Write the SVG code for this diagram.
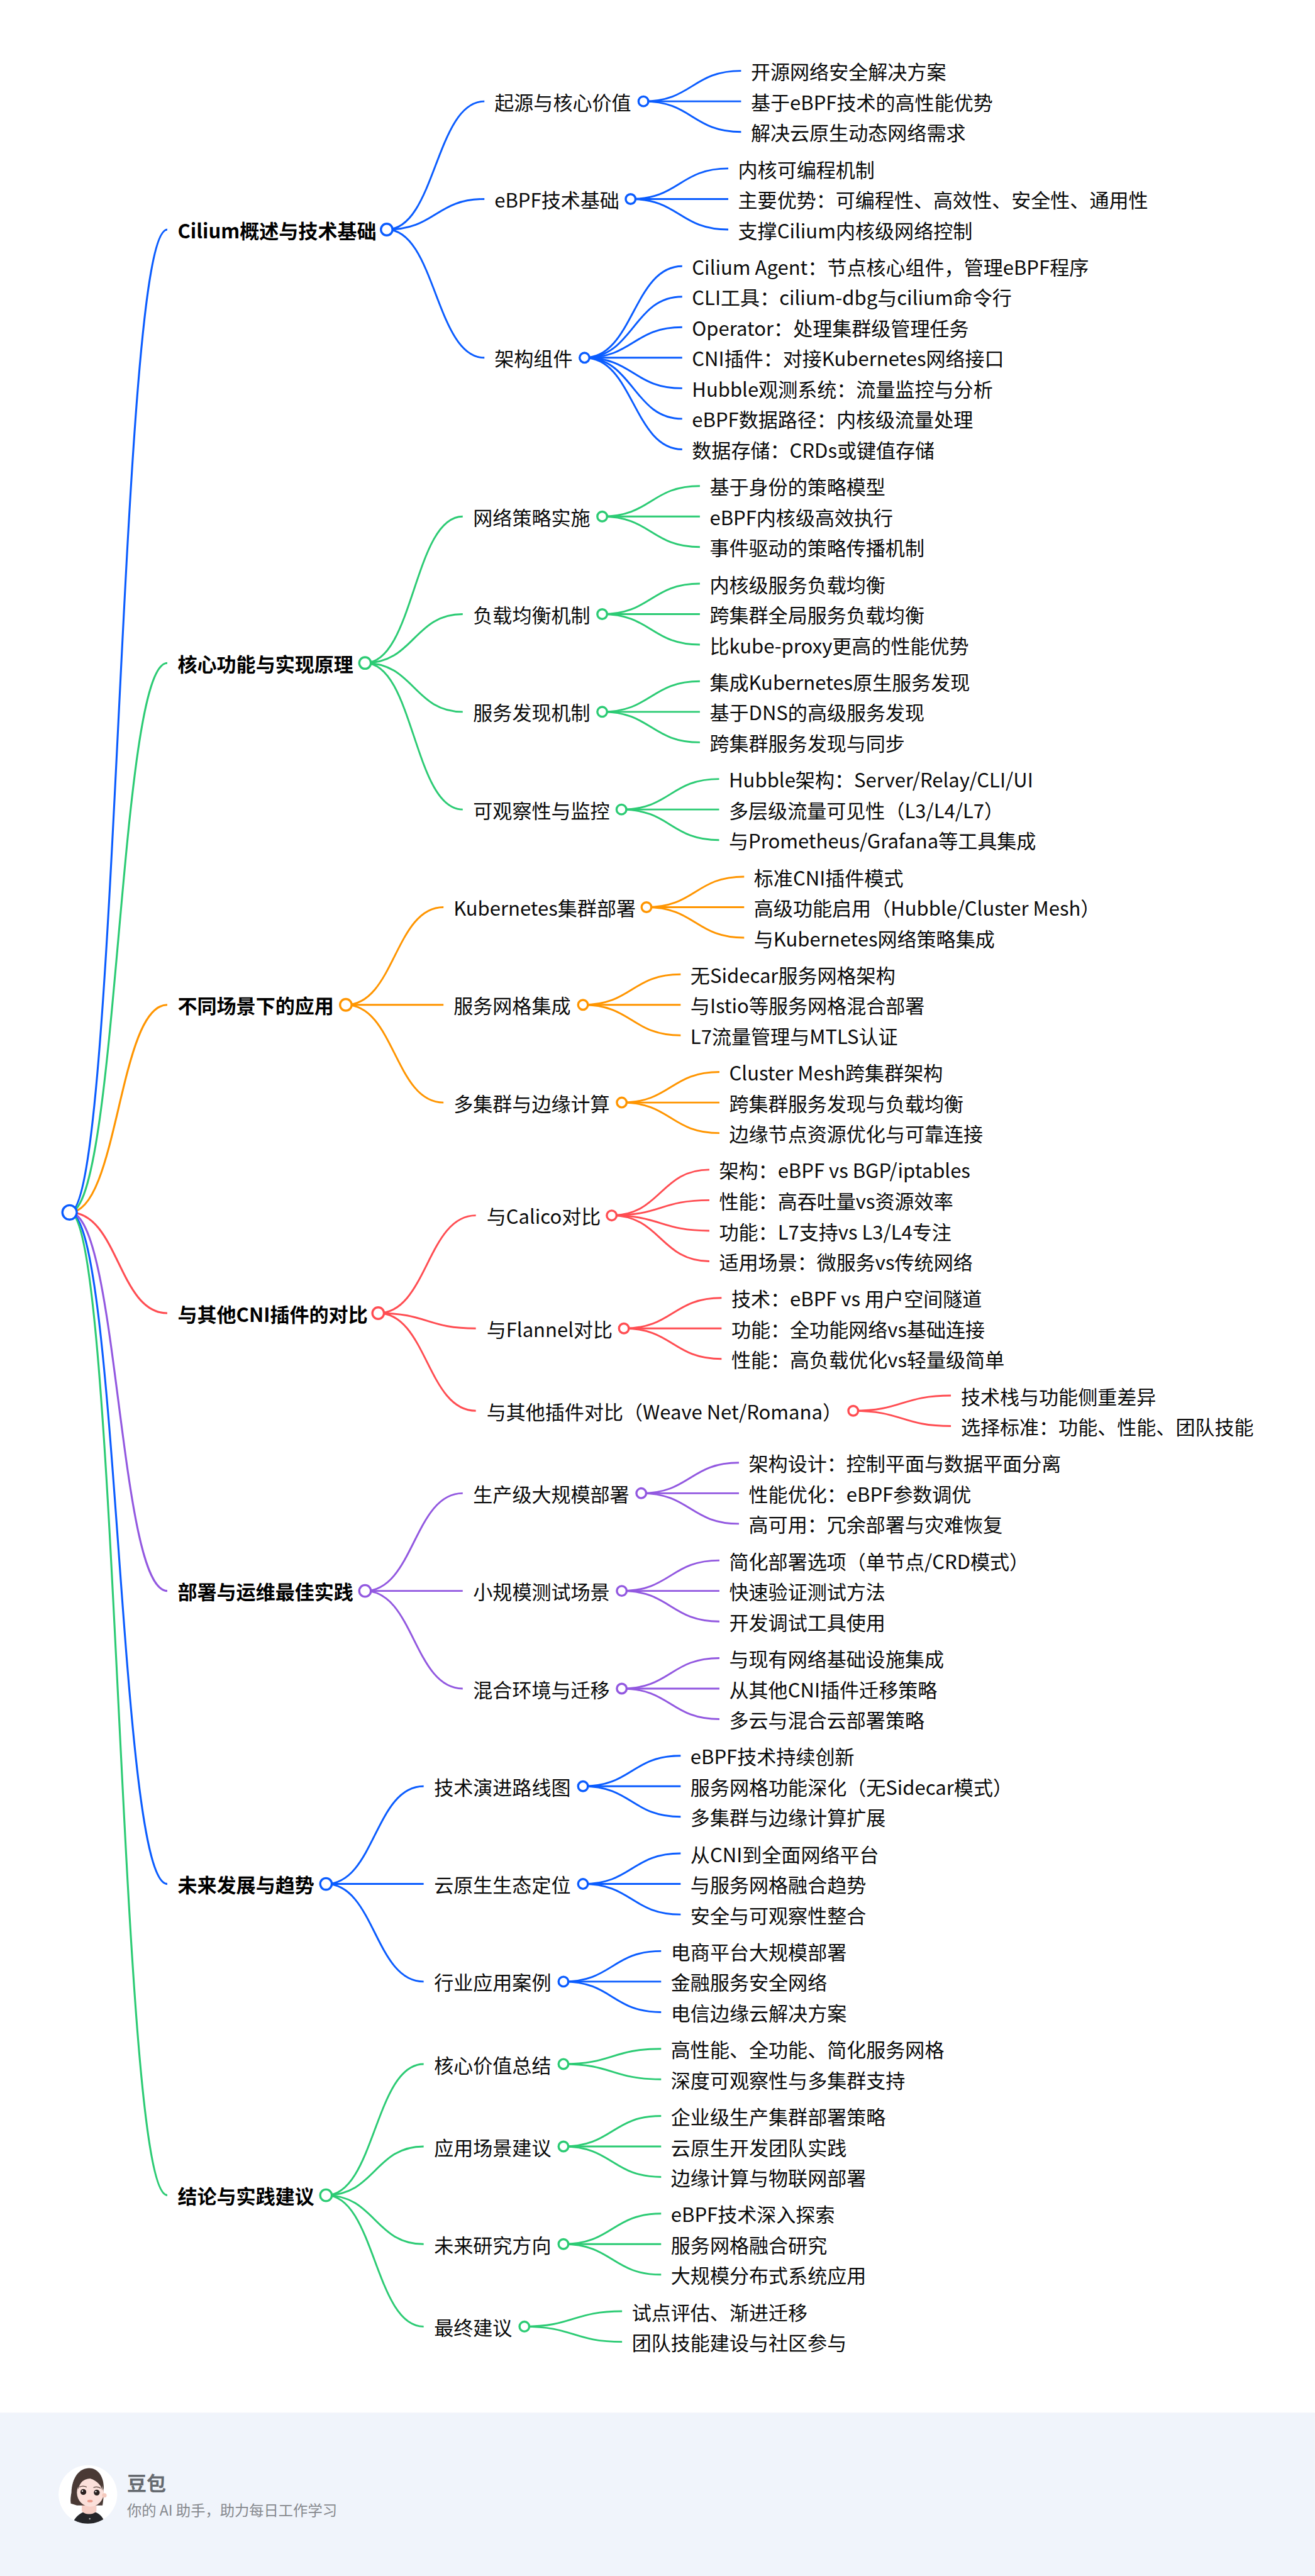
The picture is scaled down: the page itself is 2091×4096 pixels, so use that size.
<svg xmlns="http://www.w3.org/2000/svg" width="2091" height="4096" viewBox="0 0 2091 4096">
<style>
text{font-family:"Noto Sans CJK SC","Noto Sans",sans-serif;font-size:32px;fill:#0a0a0a}
.b{font-weight:700;fill:#000}
path.c{fill:none;stroke-width:3}
.r{stroke-width:3.2!important}
circle.n{fill:#fff;stroke-width:3.5}
.blue{stroke:#0a5cff}.green{stroke:#2ccb74}.orange{stroke:#ff9500}.red{stroke:#ff4d52}.purple{stroke:#9258e0}
.ft1{font-size:32px;font-weight:700;fill:#666a70}.ft2{font-size:24px;fill:#86898e}
</style>
<defs><clipPath id="avclip"><circle cx="144" cy="4086" r="48"/></clipPath></defs>
<rect width="2091" height="4096" fill="#fff"/>
<g transform="scale(0.9707)">
<g id="connectors">
<g class="blue">
<path class="c r blue" d="M114 1986C194 1986 194 376 274 376"/>
<path class="c r blue" d="M114 1986C194 1986 194 3086 274 3086"/>
<path class="c blue" d="M633.5 376C713.5 376 713.5 166 793.5 166"/>
<path class="c blue" d="M633.5 376C713.5 376 713.5 326 793.5 326"/>
<path class="c blue" d="M633.5 376C713.5 376 713.5 586 793.5 586"/>
<path class="c blue" d="M1054 166C1134 166 1134 116 1214 116"/>
<path class="c blue" d="M1054 166H1214"/>
<path class="c blue" d="M1054 166C1134 166 1134 216 1214 216"/>
<path class="c blue" d="M1033 326C1113 326 1113 276 1193 276"/>
<path class="c blue" d="M1033 326H1193"/>
<path class="c blue" d="M1033 326C1113 326 1113 376 1193 376"/>
<path class="c blue" d="M957.5 586C1037.5 586 1037.5 436 1117.5 436"/>
<path class="c blue" d="M957.5 586C1037.5 586 1037.5 486 1117.5 486"/>
<path class="c blue" d="M957.5 586C1037.5 586 1037.5 536 1117.5 536"/>
<path class="c blue" d="M957.5 586H1117.5"/>
<path class="c blue" d="M957.5 586C1037.5 586 1037.5 636 1117.5 636"/>
<path class="c blue" d="M957.5 586C1037.5 586 1037.5 686 1117.5 686"/>
<path class="c blue" d="M957.5 586C1037.5 586 1037.5 736 1117.5 736"/>
<path class="c blue" d="M534 3086C614 3086 614 2926 694 2926"/>
<path class="c blue" d="M534 3086H694"/>
<path class="c blue" d="M534 3086C614 3086 614 3246 694 3246"/>
<path class="c blue" d="M955 2926C1035 2926 1035 2876 1115 2876"/>
<path class="c blue" d="M955 2926H1115"/>
<path class="c blue" d="M955 2926C1035 2926 1035 2976 1115 2976"/>
<path class="c blue" d="M955 3086C1035 3086 1035 3036 1115 3036"/>
<path class="c blue" d="M955 3086H1115"/>
<path class="c blue" d="M955 3086C1035 3086 1035 3136 1115 3136"/>
<path class="c blue" d="M923 3246C1003 3246 1003 3196 1083 3196"/>
<path class="c blue" d="M923 3246H1083"/>
<path class="c blue" d="M923 3246C1003 3246 1003 3296 1083 3296"/>
</g>
<g class="green">
<path class="c r green" d="M114 1986C194 1986 194 1086 274 1086"/>
<path class="c r green" d="M114 1986C194 1986 194 3596 274 3596"/>
<path class="c green" d="M598 1086C678 1086 678 846 758 846"/>
<path class="c green" d="M598 1086C678 1086 678 1006 758 1006"/>
<path class="c green" d="M598 1086C678 1086 678 1166 758 1166"/>
<path class="c green" d="M598 1086C678 1086 678 1326 758 1326"/>
<path class="c green" d="M986.5 846C1066.5 846 1066.5 796 1146.5 796"/>
<path class="c green" d="M986.5 846H1146.5"/>
<path class="c green" d="M986.5 846C1066.5 846 1066.5 896 1146.5 896"/>
<path class="c green" d="M986.5 1006C1066.5 1006 1066.5 956 1146.5 956"/>
<path class="c green" d="M986.5 1006H1146.5"/>
<path class="c green" d="M986.5 1006C1066.5 1006 1066.5 1056 1146.5 1056"/>
<path class="c green" d="M986.5 1166C1066.5 1166 1066.5 1116 1146.5 1116"/>
<path class="c green" d="M986.5 1166H1146.5"/>
<path class="c green" d="M986.5 1166C1066.5 1166 1066.5 1216 1146.5 1216"/>
<path class="c green" d="M1018 1326C1098 1326 1098 1276 1178 1276"/>
<path class="c green" d="M1018 1326H1178"/>
<path class="c green" d="M1018 1326C1098 1326 1098 1376 1178 1376"/>
<path class="c green" d="M534 3596C614 3596 614 3381 694 3381"/>
<path class="c green" d="M534 3596C614 3596 614 3516 694 3516"/>
<path class="c green" d="M534 3596C614 3596 614 3676 694 3676"/>
<path class="c green" d="M534 3596C614 3596 614 3811 694 3811"/>
<path class="c green" d="M923 3381C1003 3381 1003 3356 1083 3356"/>
<path class="c green" d="M923 3381C1003 3381 1003 3406 1083 3406"/>
<path class="c green" d="M923 3516C1003 3516 1003 3466 1083 3466"/>
<path class="c green" d="M923 3516H1083"/>
<path class="c green" d="M923 3516C1003 3516 1003 3566 1083 3566"/>
<path class="c green" d="M923 3676C1003 3676 1003 3626 1083 3626"/>
<path class="c green" d="M923 3676H1083"/>
<path class="c green" d="M923 3676C1003 3676 1003 3726 1083 3726"/>
<path class="c green" d="M859 3811C939 3811 939 3786 1019 3786"/>
<path class="c green" d="M859 3811C939 3811 939 3836 1019 3836"/>
</g>
<g class="orange">
<path class="c r orange" d="M114 1986C194 1986 194 1646 274 1646"/>
<path class="c orange" d="M566.5 1646C646.5 1646 646.5 1486 726.5 1486"/>
<path class="c orange" d="M566.5 1646H726.5"/>
<path class="c orange" d="M566.5 1646C646.5 1646 646.5 1806 726.5 1806"/>
<path class="c orange" d="M1059 1486C1139 1486 1139 1436 1219 1436"/>
<path class="c orange" d="M1059 1486H1219"/>
<path class="c orange" d="M1059 1486C1139 1486 1139 1536 1219 1536"/>
<path class="c orange" d="M955 1646C1035 1646 1035 1596 1115 1596"/>
<path class="c orange" d="M955 1646H1115"/>
<path class="c orange" d="M955 1646C1035 1646 1035 1696 1115 1696"/>
<path class="c orange" d="M1018.5 1806C1098.5 1806 1098.5 1756 1178.5 1756"/>
<path class="c orange" d="M1018.5 1806H1178.5"/>
<path class="c orange" d="M1018.5 1806C1098.5 1806 1098.5 1856 1178.5 1856"/>
</g>
<g class="red">
<path class="c r red" d="M114 1986C194 1986 194 2151 274 2151"/>
<path class="c red" d="M619.5 2151C699.5 2151 699.5 1991 779.5 1991"/>
<path class="c red" d="M619.5 2151C699.5 2151 699.5 2176 779.5 2176"/>
<path class="c red" d="M619.5 2151C699.5 2151 699.5 2311 779.5 2311"/>
<path class="c red" d="M1002 1991C1082 1991 1082 1916 1162 1916"/>
<path class="c red" d="M1002 1991C1082 1991 1082 1966 1162 1966"/>
<path class="c red" d="M1002 1991C1082 1991 1082 2016 1162 2016"/>
<path class="c red" d="M1002 1991C1082 1991 1082 2066 1162 2066"/>
<path class="c red" d="M1022 2176C1102 2176 1102 2126 1182 2126"/>
<path class="c red" d="M1022 2176H1182"/>
<path class="c red" d="M1022 2176C1102 2176 1102 2226 1182 2226"/>
<path class="c red" d="M1397.7 2311C1477.7 2311 1477.7 2286 1557.7 2286"/>
<path class="c red" d="M1397.7 2311C1477.7 2311 1477.7 2336 1557.7 2336"/>
</g>
<g class="purple">
<path class="c r purple" d="M114 1986C194 1986 194 2606 274 2606"/>
<path class="c purple" d="M598 2606C678 2606 678 2446 758 2446"/>
<path class="c purple" d="M598 2606H758"/>
<path class="c purple" d="M598 2606C678 2606 678 2766 758 2766"/>
<path class="c purple" d="M1050.5 2446C1130.5 2446 1130.5 2396 1210.5 2396"/>
<path class="c purple" d="M1050.5 2446H1210.5"/>
<path class="c purple" d="M1050.5 2446C1130.5 2446 1130.5 2496 1210.5 2496"/>
<path class="c purple" d="M1018.5 2606C1098.5 2606 1098.5 2556 1178.5 2556"/>
<path class="c purple" d="M1018.5 2606H1178.5"/>
<path class="c purple" d="M1018.5 2606C1098.5 2606 1098.5 2656 1178.5 2656"/>
<path class="c purple" d="M1018.5 2766C1098.5 2766 1098.5 2716 1178.5 2716"/>
<path class="c purple" d="M1018.5 2766H1178.5"/>
<path class="c purple" d="M1018.5 2766C1098.5 2766 1098.5 2816 1178.5 2816"/>
</g>
</g>

<g id="root"><circle class="n blue" cx="114" cy="1986" r="11.8"/></g>

<g id="l1-1"><text class="b" x="291" y="390">Cilium概述与技术基础</text><circle class="n blue" cx="633.5" cy="376" r="9.5"/></g>
<g id="l2-1-1"><text x="810" y="180">起源与核心价值</text><circle class="n blue" cx="1054" cy="166" r="8"/></g>
<g id="l3-1-1-1"><text x="1230" y="130">开源网络安全解决方案</text></g>
<g id="l3-1-1-2"><text x="1230" y="180">基于eBPF技术的高性能优势</text></g>
<g id="l3-1-1-3"><text x="1230" y="230">解决云原生动态网络需求</text></g>
<g id="l2-1-2"><text x="810" y="340">eBPF技术基础</text><circle class="n blue" cx="1033" cy="326" r="8"/></g>
<g id="l3-1-2-1"><text x="1209" y="290">内核可编程机制</text></g>
<g id="l3-1-2-2"><text x="1209" y="340">主要优势：可编程性、高效性、安全性、通用性</text></g>
<g id="l3-1-2-3"><text x="1209" y="390">支撑Cilium内核级网络控制</text></g>
<g id="l2-1-3"><text x="810" y="600">架构组件</text><circle class="n blue" cx="957.5" cy="586" r="8"/></g>
<g id="l3-1-3-1"><text x="1133.5" y="450">Cilium Agent：节点核心组件，管理eBPF程序</text></g>
<g id="l3-1-3-2"><text x="1133.5" y="500">CLI工具：cilium-dbg与cilium命令行</text></g>
<g id="l3-1-3-3"><text x="1133.5" y="550">Operator：处理集群级管理任务</text></g>
<g id="l3-1-3-4"><text x="1133.5" y="600">CNI插件：对接Kubernetes网络接口</text></g>
<g id="l3-1-3-5"><text x="1133.5" y="650">Hubble观测系统：流量监控与分析</text></g>
<g id="l3-1-3-6"><text x="1133.5" y="700">eBPF数据路径：内核级流量处理</text></g>
<g id="l3-1-3-7"><text x="1133.5" y="750">数据存储：CRDs或键值存储</text></g>

<g id="l1-2"><text class="b" x="291" y="1100">核心功能与实现原理</text><circle class="n green" cx="598" cy="1086" r="9.5"/></g>
<g id="l2-2-1"><text x="775" y="860">网络策略实施</text><circle class="n green" cx="986.5" cy="846" r="8"/></g>
<g id="l3-2-1-1"><text x="1162.5" y="810">基于身份的策略模型</text></g>
<g id="l3-2-1-2"><text x="1162.5" y="860">eBPF内核级高效执行</text></g>
<g id="l3-2-1-3"><text x="1162.5" y="910">事件驱动的策略传播机制</text></g>
<g id="l2-2-2"><text x="775" y="1020">负载均衡机制</text><circle class="n green" cx="986.5" cy="1006" r="8"/></g>
<g id="l3-2-2-1"><text x="1162.5" y="970">内核级服务负载均衡</text></g>
<g id="l3-2-2-2"><text x="1162.5" y="1020">跨集群全局服务负载均衡</text></g>
<g id="l3-2-2-3"><text x="1162.5" y="1070">比kube-proxy更高的性能优势</text></g>
<g id="l2-2-3"><text x="775" y="1180">服务发现机制</text><circle class="n green" cx="986.5" cy="1166" r="8"/></g>
<g id="l3-2-3-1"><text x="1162.5" y="1130">集成Kubernetes原生服务发现</text></g>
<g id="l3-2-3-2"><text x="1162.5" y="1180">基于DNS的高级服务发现</text></g>
<g id="l3-2-3-3"><text x="1162.5" y="1230">跨集群服务发现与同步</text></g>
<g id="l2-2-4"><text x="775" y="1340">可观察性与监控</text><circle class="n green" cx="1018" cy="1326" r="8"/></g>
<g id="l3-2-4-1"><text x="1194" y="1290">Hubble架构：Server/Relay/CLI/UI</text></g>
<g id="l3-2-4-2"><text x="1194" y="1340">多层级流量可见性（L3/L4/L7）</text></g>
<g id="l3-2-4-3"><text x="1194" y="1390">与Prometheus/Grafana等工具集成</text></g>

<g id="l1-3"><text class="b" x="291" y="1660">不同场景下的应用</text><circle class="n orange" cx="566.5" cy="1646" r="9.5"/></g>
<g id="l2-3-1"><text x="743" y="1500">Kubernetes集群部署</text><circle class="n orange" cx="1059" cy="1486" r="8"/></g>
<g id="l3-3-1-1"><text x="1235" y="1450">标准CNI插件模式</text></g>
<g id="l3-3-1-2"><text x="1235" y="1500">高级功能启用（Hubble/Cluster Mesh）</text></g>
<g id="l3-3-1-3"><text x="1235" y="1550">与Kubernetes网络策略集成</text></g>
<g id="l2-3-2"><text x="743" y="1660">服务网格集成</text><circle class="n orange" cx="955" cy="1646" r="8"/></g>
<g id="l3-3-2-1"><text x="1131" y="1610">无Sidecar服务网格架构</text></g>
<g id="l3-3-2-2"><text x="1131" y="1660">与Istio等服务网格混合部署</text></g>
<g id="l3-3-2-3"><text x="1131" y="1710">L7流量管理与MTLS认证</text></g>
<g id="l2-3-3"><text x="743" y="1820">多集群与边缘计算</text><circle class="n orange" cx="1018.5" cy="1806" r="8"/></g>
<g id="l3-3-3-1"><text x="1194.5" y="1770">Cluster Mesh跨集群架构</text></g>
<g id="l3-3-3-2"><text x="1194.5" y="1820">跨集群服务发现与负载均衡</text></g>
<g id="l3-3-3-3"><text x="1194.5" y="1870">边缘节点资源优化与可靠连接</text></g>

<g id="l1-4"><text class="b" x="291" y="2165">与其他CNI插件的对比</text><circle class="n red" cx="619.5" cy="2151" r="9.5"/></g>
<g id="l2-4-1"><text x="797" y="2005">与Calico对比</text><circle class="n red" cx="1002" cy="1991" r="8"/></g>
<g id="l3-4-1-1"><text x="1178" y="1930">架构：eBPF vs BGP/iptables</text></g>
<g id="l3-4-1-2"><text x="1178" y="1980">性能：高吞吐量vs资源效率</text></g>
<g id="l3-4-1-3"><text x="1178" y="2030">功能：L7支持vs L3/L4专注</text></g>
<g id="l3-4-1-4"><text x="1178" y="2080">适用场景：微服务vs传统网络</text></g>
<g id="l2-4-2"><text x="797" y="2190">与Flannel对比</text><circle class="n red" cx="1022" cy="2176" r="8"/></g>
<g id="l3-4-2-1"><text x="1198" y="2140">技术：eBPF vs 用户空间隧道</text></g>
<g id="l3-4-2-2"><text x="1198" y="2190">功能：全功能网络vs基础连接</text></g>
<g id="l3-4-2-3"><text x="1198" y="2240">性能：高负载优化vs轻量级简单</text></g>
<g id="l2-4-3"><text x="797" y="2325">与其他插件对比（Weave Net/Romana）</text><circle class="n red" cx="1397.7" cy="2311" r="8"/></g>
<g id="l3-4-3-1"><text x="1574" y="2300">技术栈与功能侧重差异</text></g>
<g id="l3-4-3-2"><text x="1574" y="2350">选择标准：功能、性能、团队技能</text></g>

<g id="l1-5"><text class="b" x="291" y="2620">部署与运维最佳实践</text><circle class="n purple" cx="598" cy="2606" r="9.5"/></g>
<g id="l2-5-1"><text x="775" y="2460">生产级大规模部署</text><circle class="n purple" cx="1050.5" cy="2446" r="8"/></g>
<g id="l3-5-1-1"><text x="1226.5" y="2410">架构设计：控制平面与数据平面分离</text></g>
<g id="l3-5-1-2"><text x="1226.5" y="2460">性能优化：eBPF参数调优</text></g>
<g id="l3-5-1-3"><text x="1226.5" y="2510">高可用：冗余部署与灾难恢复</text></g>
<g id="l2-5-2"><text x="775" y="2620">小规模测试场景</text><circle class="n purple" cx="1018.5" cy="2606" r="8"/></g>
<g id="l3-5-2-1"><text x="1194.5" y="2570">简化部署选项（单节点/CRD模式）</text></g>
<g id="l3-5-2-2"><text x="1194.5" y="2620">快速验证测试方法</text></g>
<g id="l3-5-2-3"><text x="1194.5" y="2670">开发调试工具使用</text></g>
<g id="l2-5-3"><text x="775" y="2780">混合环境与迁移</text><circle class="n purple" cx="1018.5" cy="2766" r="8"/></g>
<g id="l3-5-3-1"><text x="1194.5" y="2730">与现有网络基础设施集成</text></g>
<g id="l3-5-3-2"><text x="1194.5" y="2780">从其他CNI插件迁移策略</text></g>
<g id="l3-5-3-3"><text x="1194.5" y="2830">多云与混合云部署策略</text></g>

<g id="l1-6"><text class="b" x="291" y="3100">未来发展与趋势</text><circle class="n blue" cx="534" cy="3086" r="9.5"/></g>
<g id="l2-6-1"><text x="711" y="2940">技术演进路线图</text><circle class="n blue" cx="955" cy="2926" r="8"/></g>
<g id="l3-6-1-1"><text x="1131" y="2890">eBPF技术持续创新</text></g>
<g id="l3-6-1-2"><text x="1131" y="2940">服务网格功能深化（无Sidecar模式）</text></g>
<g id="l3-6-1-3"><text x="1131" y="2990">多集群与边缘计算扩展</text></g>
<g id="l2-6-2"><text x="711" y="3100">云原生生态定位</text><circle class="n blue" cx="955" cy="3086" r="8"/></g>
<g id="l3-6-2-1"><text x="1131" y="3050">从CNI到全面网络平台</text></g>
<g id="l3-6-2-2"><text x="1131" y="3100">与服务网格融合趋势</text></g>
<g id="l3-6-2-3"><text x="1131" y="3150">安全与可观察性整合</text></g>
<g id="l2-6-3"><text x="711" y="3260">行业应用案例</text><circle class="n blue" cx="923" cy="3246" r="8"/></g>
<g id="l3-6-3-1"><text x="1099" y="3210">电商平台大规模部署</text></g>
<g id="l3-6-3-2"><text x="1099" y="3260">金融服务安全网络</text></g>
<g id="l3-6-3-3"><text x="1099" y="3310">电信边缘云解决方案</text></g>

<g id="l1-7"><text class="b" x="291" y="3610">结论与实践建议</text><circle class="n green" cx="534" cy="3596" r="9.5"/></g>
<g id="l2-7-1"><text x="711" y="3395">核心价值总结</text><circle class="n green" cx="923" cy="3381" r="8"/></g>
<g id="l3-7-1-1"><text x="1099" y="3370">高性能、全功能、简化服务网格</text></g>
<g id="l3-7-1-2"><text x="1099" y="3420">深度可观察性与多集群支持</text></g>
<g id="l2-7-2"><text x="711" y="3530">应用场景建议</text><circle class="n green" cx="923" cy="3516" r="8"/></g>
<g id="l3-7-2-1"><text x="1099" y="3480">企业级生产集群部署策略</text></g>
<g id="l3-7-2-2"><text x="1099" y="3530">云原生开发团队实践</text></g>
<g id="l3-7-2-3"><text x="1099" y="3580">边缘计算与物联网部署</text></g>
<g id="l2-7-3"><text x="711" y="3690">未来研究方向</text><circle class="n green" cx="923" cy="3676" r="8"/></g>
<g id="l3-7-3-1"><text x="1099" y="3640">eBPF技术深入探索</text></g>
<g id="l3-7-3-2"><text x="1099" y="3690">服务网格融合研究</text></g>
<g id="l3-7-3-3"><text x="1099" y="3740">大规模分布式系统应用</text></g>
<g id="l2-7-4"><text x="711" y="3825">最终建议</text><circle class="n green" cx="859" cy="3811" r="8"/></g>
<g id="l3-7-4-1"><text x="1035" y="3800">试点评估、渐进迁移</text></g>
<g id="l3-7-4-2"><text x="1035" y="3850">团队技能建设与社区参与</text></g>

<g id="footer">
<rect x="0" y="3952" width="2154" height="268" fill="#f0f4fb"/>
<circle cx="144" cy="4086" r="48" fill="#fff"/>
<g clip-path="url(#avclip)">
<path d="M118 4136C122 4122 132 4117 138 4114H154C162 4117 170 4122 172 4136Z" fill="#26262a"/>
<path d="M134 4100H158V4113C154 4120 138 4120 134 4113Z" fill="#f7cfc6"/>
<path d="M117 4083C118 4058 130 4043 146 4043C160 4043 170 4056 170 4075C170 4090 169 4098 168 4104H126L116 4101C115 4095 116 4089 117 4083Z" fill="#4a3a35"/>
<ellipse cx="148" cy="4083" rx="22" ry="23" fill="#fbe0da"/>
<path d="M128 4078C130 4070 134 4062 144 4059C154 4061 165 4068 168 4080C169 4068 160 4052 146 4052C134 4052 127 4064 128 4078Z" fill="#4a3a35"/>
<circle cx="171" cy="4087.5" r="3.7" fill="#f4c9bd"/>
<circle cx="136.5" cy="4082" r="4.8" fill="#2a2322"/>
<circle cx="158.5" cy="4083" r="4.8" fill="#2a2322"/>
<circle cx="135" cy="4080.5" r="1.2" fill="#fff"/>
<circle cx="157" cy="4081.5" r="1.2" fill="#fff"/>
<path d="M130 4074Q136 4071 142 4074M153 4075Q159 4072 165 4076" fill="none" stroke="#5a443c" stroke-width="1.2"/>
<ellipse cx="147.5" cy="4097" rx="4.5" ry="2.2" fill="#ec9c8c"/>
<circle cx="147" cy="4126" r="1.3" fill="#bbb"/>
</g>
<text class="ft1" x="208" y="4080">豆包</text>
<text class="ft2" x="208" y="4121">你的 AI 助手，助力每日工作学习</text>
</g>
</g>
</svg>
